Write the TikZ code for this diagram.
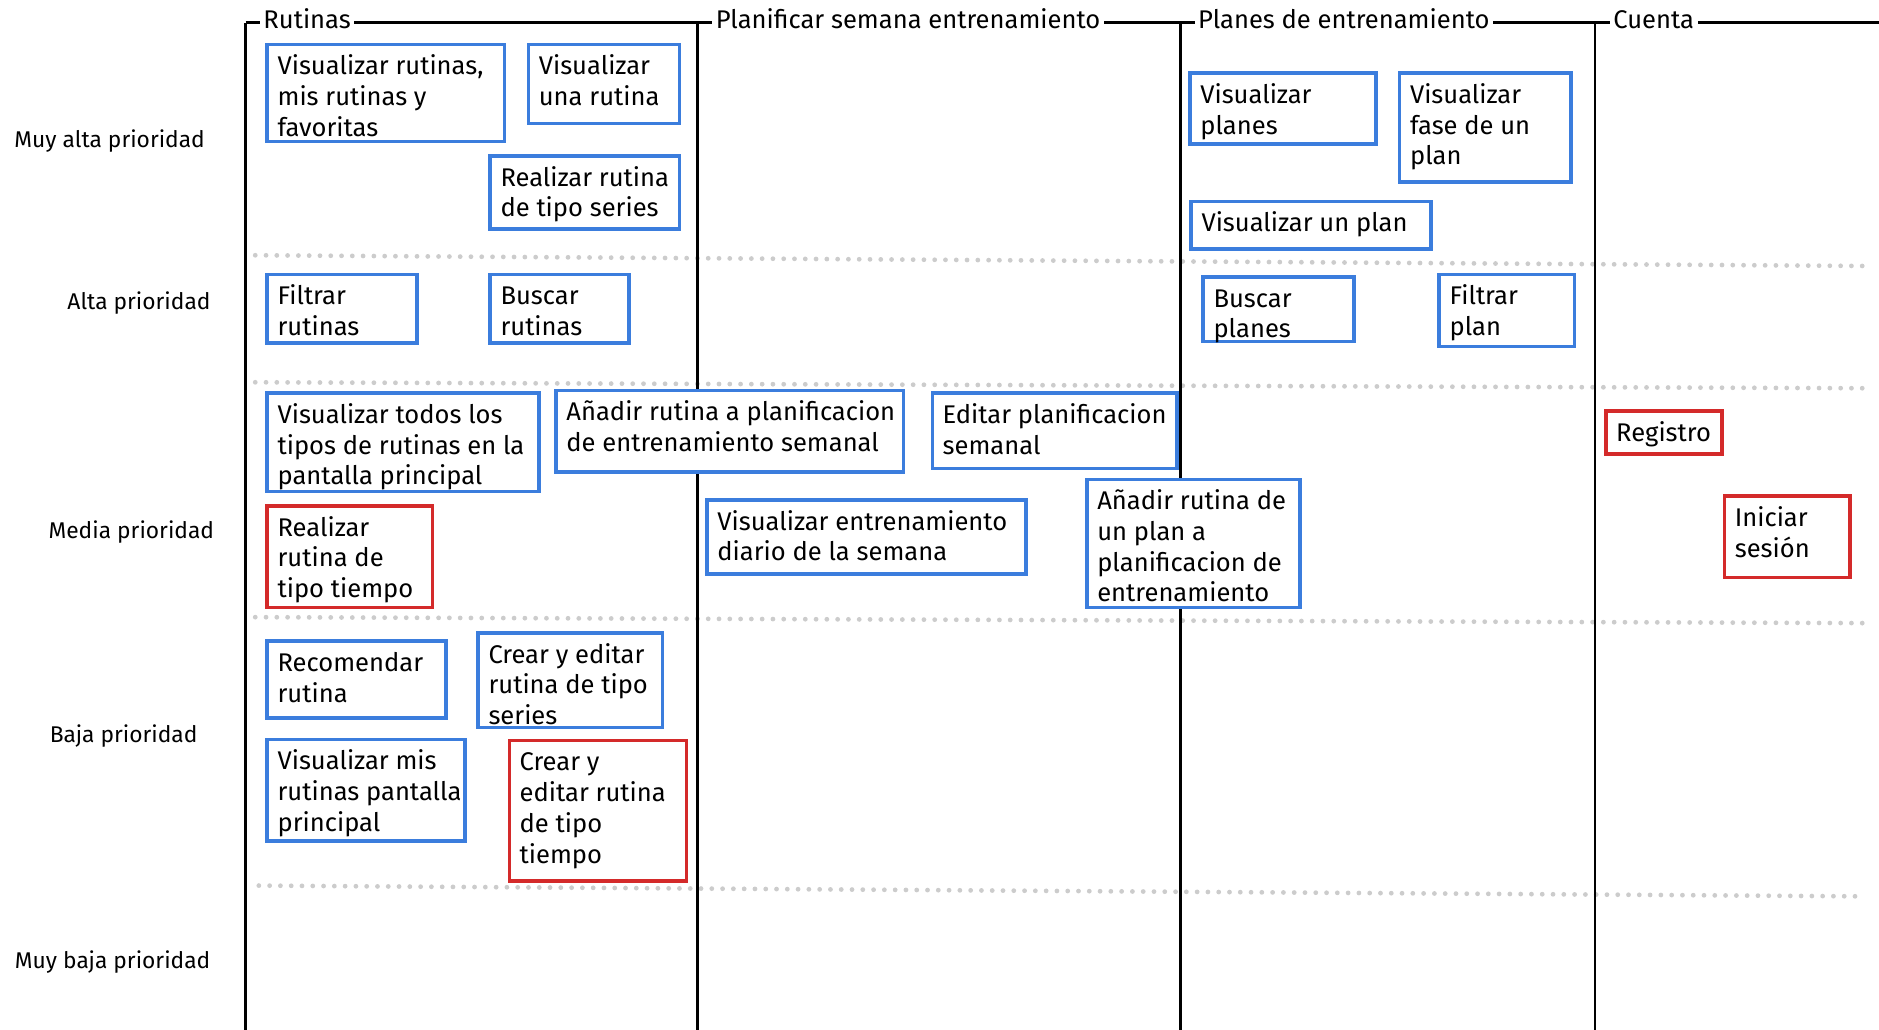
\documentclass[tikz,border=0pt]{standalone}
\usepackage{fontspec}
\setmainfont{Fira Sans}
\definecolor{sblue}{HTML}{3B7DDD}
\definecolor{sred}{HTML}{D42A2A}
\definecolor{dotgray}{HTML}{CCCCCC}
\newcommand{\story}[7]{%
  \node[#2, minimum width={(#5-#3)*0.6pt}, minimum height={(#6-#4)*0.6pt}] (#1) at ({(#3+#5)/2},{(#4+#6)/2}) {};
  \node[storytext] (#1t) at ([xshift=5pt,yshift=-4.2pt]#1.north west) {\strut #7};
}
\begin{document}
\begin{tikzpicture}[x=0.6pt,y=-0.6pt,
  bluebox/.style={draw=sblue, line width=1.8pt, fill=white, inner sep=0pt, outer sep=0pt},
  redbox/.style={draw=sred, line width=1.8pt, fill=white, inner sep=0pt, outer sep=0pt},
  storytext/.style={anchor=north west, align=left, inner sep=0pt, font=\fontsize{12.8}{15.4}\selectfont},
  lanehead/.style={anchor=base west, fill=white, inner xsep=1.8pt, inner ysep=1pt, font=\fontsize{12.8}{14}\selectfont},
  rowlabel/.style={font=\fontsize{11.4}{13}\selectfont, inner sep=0pt},
  laneline/.style={line width=1.3pt, black},
  sepline/.style={dotgray, line width=2.4pt, line cap=round, dash pattern=on 0pt off 5.4pt}]
\useasboundingbox (0,0) rectangle (1568,859.5);
% priority separators
\draw[sepline] (213,213) -- (1562,222);
\draw[sepline] (213,319) -- (1562,324);
\draw[sepline] (213,515) -- (1562,520);
\draw[sepline] (216,739) -- (1556,748);
% lanes
\draw[laneline] (205,19) -- (1568,19);
\foreach \lx in {205,582,985,1331} {\draw[laneline] (\lx,19) -- (\lx,860);}
\node[lanehead] (h1) at (216.5,24) {Rutinas};
\node[lanehead] (h2) at (594,24) {Planificar semana entrenamiento};
\node[lanehead] (h3) at (996.5,24) {Planes de entrenamiento};
\node[lanehead] (h4) at (1343,24) {Cuenta};
% row labels
\node[rowlabel] (r1) at (91.5,118) {Muy alta prioridad};
\node[rowlabel] (r2) at (116,253) {Alta prioridad};
\node[rowlabel] (r3) at (109.6,444) {Media prioridad};
\node[rowlabel] (r4) at (103.2,614) {Baja prioridad};
\node[rowlabel] (r5) at (94,803) {Muy baja prioridad};
% stories
\story{b1}{bluebox}{223}{37}{421}{118}{Visualizar rutinas,\\mis rutinas y\\favoritas}
\story{b2}{bluebox}{441}{37}{567}{103}{Visualizar\\una rutina}
\story{b3}{bluebox}{409}{130}{567}{191}{Realizar rutina\\de tipo series}
\story{b4}{bluebox}{223}{229}{348}{286}{Filtrar\\rutinas}
\story{b5}{bluebox}{409}{229}{525}{286}{Buscar\\rutinas}
\story{b6}{bluebox}{223}{328}{450}{410}{Visualizar todos los\\tipos de rutinas en la\\pantalla principal}
\story{b7}{redbox}{223}{422}{361}{507}{Realizar\\rutina de\\tipo tiempo}
\story{b8}{bluebox}{223}{535}{372}{599}{Recomendar\\rutina}
\story{b9}{bluebox}{399}{528}{553}{607}{Crear y editar\\rutina de tipo\\series}
\story{b10}{bluebox}{223}{617}{388}{702}{Visualizar mis\\rutinas pantalla\\principal}
\story{b11}{redbox}{425}{618}{573}{735}{Crear y\\editar rutina\\de tipo\\tiempo}
\story{b12}{bluebox}{464}{326}{754}{394}{Añadir rutina a planificacion\\de entrenamiento semanal}
\story{b13}{bluebox}{778}{328}{982}{391}{Editar planificacion\\semanal}
\story{b14}{bluebox}{590}{417}{856}{479}{Visualizar entrenamiento\\diario de la semana}
\story{b15}{bluebox}{907}{400}{1085}{507}{Añadir rutina de\\un plan a\\planificacion de\\entrenamiento}
\story{b16}{bluebox}{993}{61}{1148}{120}{Visualizar\\planes}
\story{b17}{bluebox}{1168}{61}{1311}{152}{Visualizar\\fase de un\\plan}
\story{b18}{bluebox}{994}{168}{1194}{208}{Visualizar un plan}
\story{b19}{bluebox}{1004}{231}{1130}{285}{Buscar\\planes}
\story{b20}{bluebox}{1201}{229}{1314}{289}{Filtrar\\plan}
\story{b21}{redbox}{1340}{343}{1437}{379}{Registro}
\story{b22}{redbox}{1439}{414}{1544}{482}{Iniciar\\sesión}
\end{tikzpicture}
\end{document}
